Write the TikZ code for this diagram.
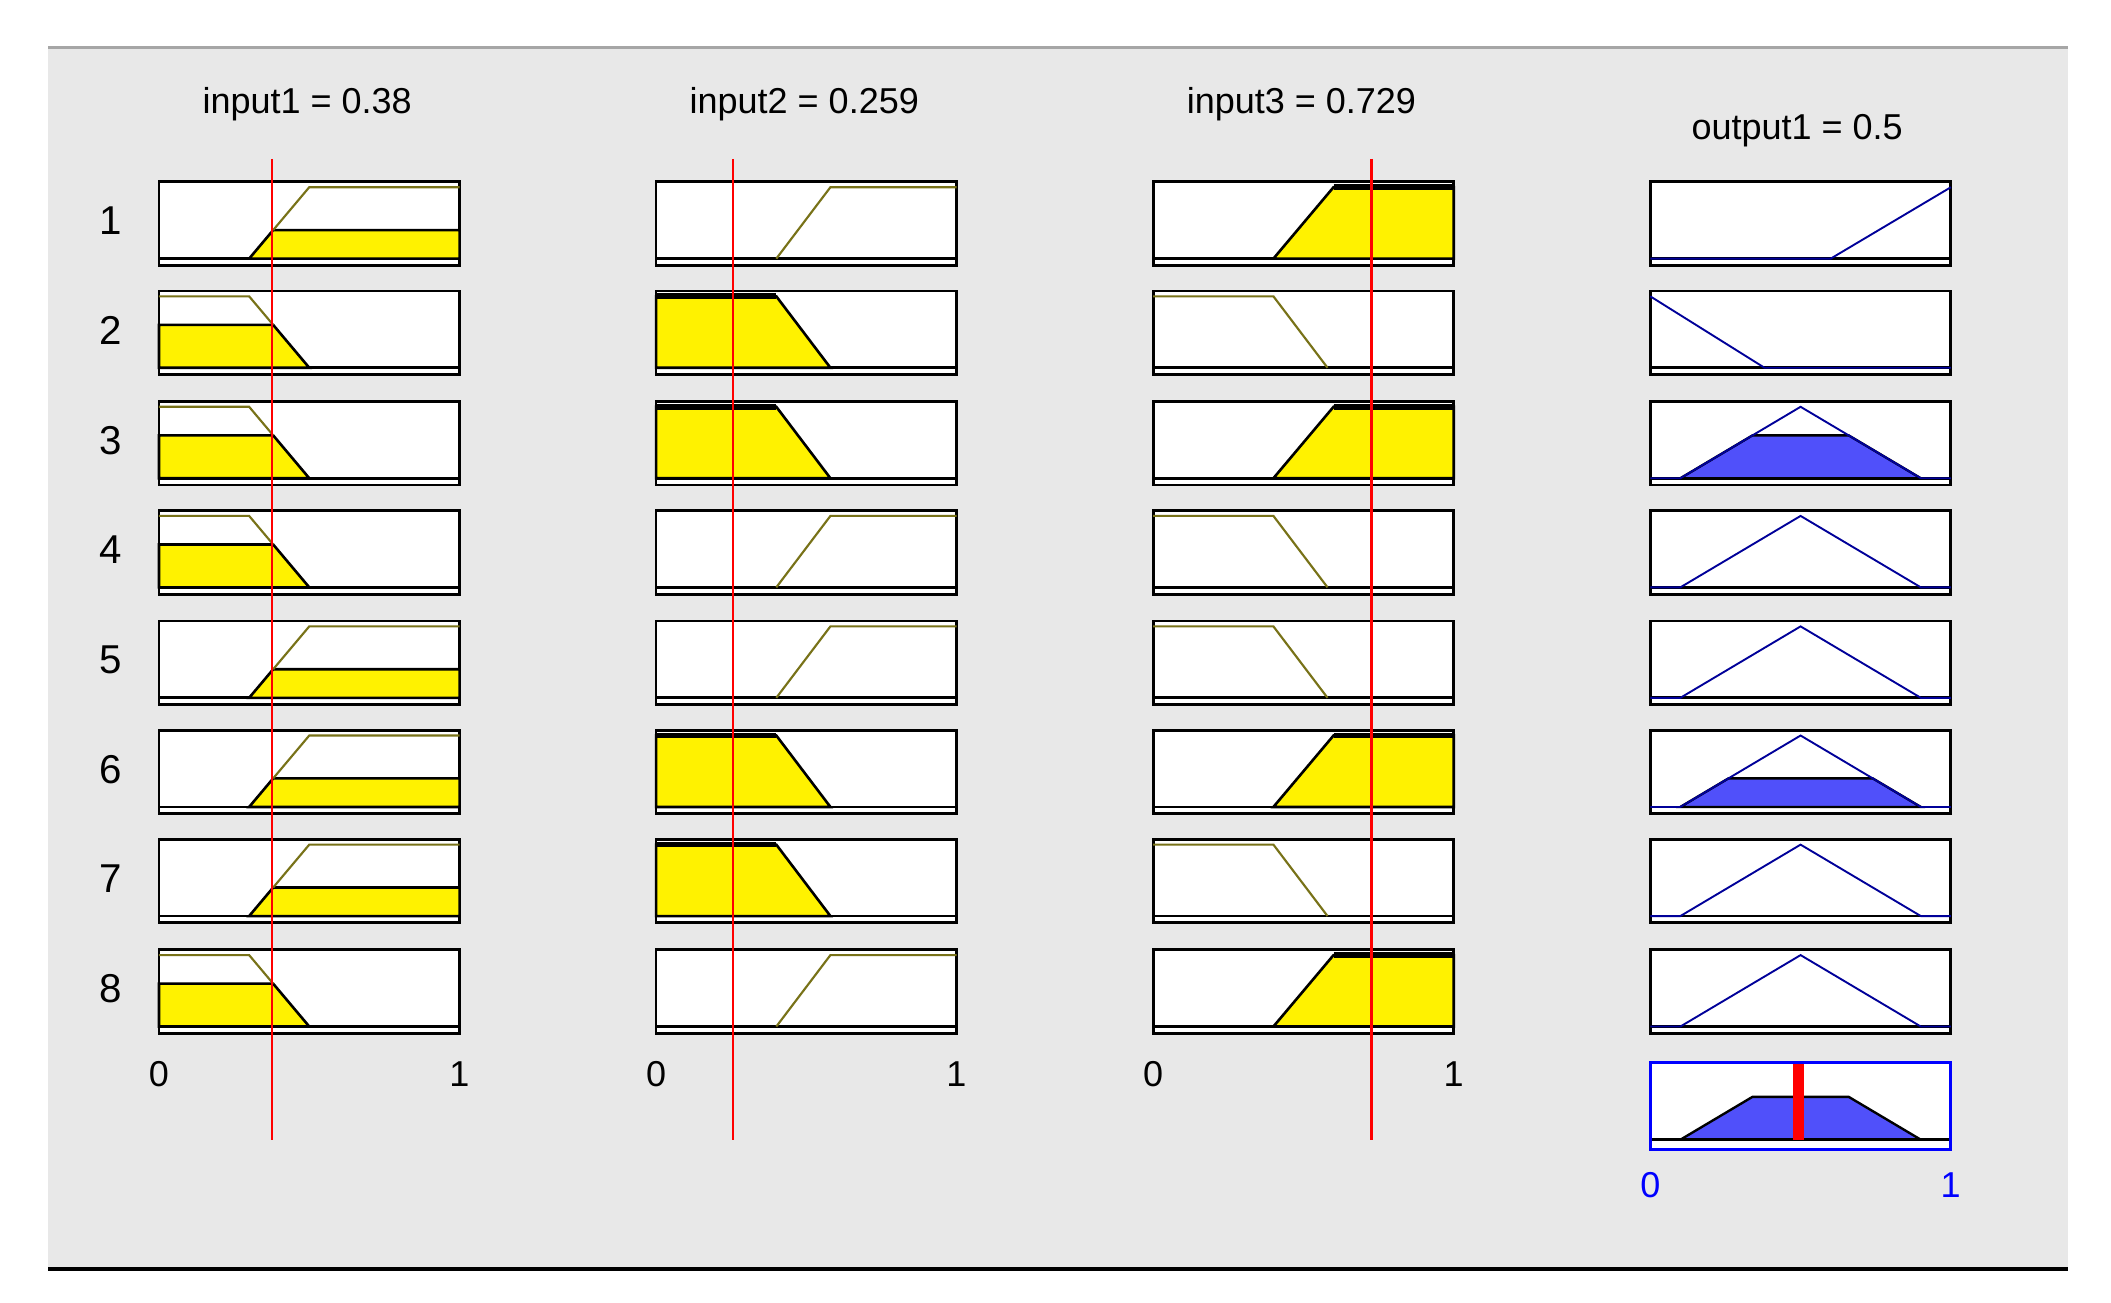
\documentclass[tikz,border=0pt]{standalone}
\usepackage{fontspec}
\setmainfont{Liberation Sans}
\begin{document}
\begin{tikzpicture}[x=0.01cm,y=-0.01cm,
  lab/.style={font=\fontsize{7.6}{9}\selectfont,inner sep=0pt},
  box/.style={draw=black,line width=0.6pt,fill=white},
  olive/.style={draw=olive!80!black,line width=0.45pt},
  clip1/.style={draw=black,line width=0.55pt,fill=yellow},
  navy/.style={draw=blue!60!black,line width=0.4pt},
  oclip/.style={draw=black,line width=0.5pt,fill={rgb,255:red,80;green,80;blue,250}},
  redl/.style={draw=red,line width=0.55pt}]
\useasboundingbox (0,0) rectangle (1567,967);
\fill[white] (0,0) rectangle (1567,967);
\fill[gray!18] (36,35) rectangle (1535,942);
\draw[gray!70,line width=0.6pt] (36,35) -- (1535,35);
\draw[black,line width=0.8pt] (36,942) -- (1535,942);
% titles
\node[lab] (t1) at (228,77) {input1 = 0.38};
\node[lab] (t2) at (597,77) {input2 = 0.259};
\node[lab] (t3) at (966,77) {input3 = 0.729};
\node[lab] (t4) at (1334,97) {output1 = 0.5};
% macros
\newcommand\boxat[2]{\draw[box] (#1,#2) rectangle ++(223,62);
  \draw[black,line width=0.6pt] (#1,#2+57) -- ++(223,0);}
\newcommand\plot[3]{\begin{scope}[shift={(#1,#2+57)},x=2.23cm,y=0.53cm] #3 \end{scope}}
\foreach \i/\T in {1/135,2/216,3/298,4/379,5/461,6/542,7/623,8/705}{
  \node[lab,font=\fontsize{8.5}{10}\selectfont] (r\i) at (82,\T+29) {\i};
  \foreach \L in {118,487,856,1225}{\boxat{\L}{\T}}
}
% input1
\foreach \T in {135,461,542,623}{\plot{118}{\T}{
  \draw[clip1] (0.3,0) -- (0.38,0.4) -- (1,0.4) -- (1,0) -- cycle;
  \draw[olive] (0.38,0.4) -- (0.5,1) -- (1,1);}}
\foreach \T in {216,298,379,705}{\plot{118}{\T}{
  \draw[clip1] (0,0) -- (0,0.6) -- (0.38,0.6) -- (0.5,0) -- cycle;
  \draw[olive] (0,1) -- (0.3,1) -- (0.38,0.6);}}
% input2
\foreach \T in {216,298,542,623}{\plot{487}{\T}{
  \draw[clip1] (0,0) -- (0,1) -- (0.4,1) -- (0.58,0) -- cycle;
  \draw[black,line width=1.2pt] (0,1) -- (0.4,1);}}
\foreach \T in {135,379,461,705}{\plot{487}{\T}{
  \draw[olive] (0.4,0) -- (0.58,1) -- (1,1);}}
% input3
\foreach \T in {135,298,542,705}{\plot{856}{\T}{
  \draw[clip1] (0.4,0) -- (0.6,1) -- (1,1) -- (1,0) -- cycle;
  \draw[black,line width=1.2pt] (0.6,1) -- (1,1);}}
\foreach \T in {216,379,461,623}{\plot{856}{\T}{
  \draw[olive] (0,1) -- (0.4,1) -- (0.58,0);}}
% output
\plot{1225}{135}{\draw[navy] (0,0) -- (0.6,0) -- (1,1);}
\plot{1225}{216}{\draw[navy] (0,1) -- (0.38,0) -- (1,0);}
\plot{1225}{298}{\draw[oclip] (0.1,0) -- (0.34,0.6) -- (0.66,0.6) -- (0.9,0) -- cycle;
  \draw[navy] (0,0) -- (0.1,0) -- (0.5,1) -- (0.9,0) -- (1,0);}
\plot{1225}{542}{\draw[oclip] (0.1,0) -- (0.26,0.4) -- (0.74,0.4) -- (0.9,0) -- cycle;
  \draw[navy] (0,0) -- (0.1,0) -- (0.5,1) -- (0.9,0) -- (1,0);}
\foreach \T in {379,461,623,705}{\plot{1225}{\T}{
  \draw[navy] (0,0) -- (0.1,0) -- (0.5,1) -- (0.9,0) -- (1,0);}}
% aggregate
\draw[white,fill=white] (1225,789) rectangle (1448,853);
\plot{1225}{789}{\draw[oclip] (0.1,0) -- (0.34,0.6) -- (0.66,0.6) -- (0.9,0) -- cycle;}
\draw[black,line width=0.6pt] (1225,846) -- (1448,846);
\draw[red,line width=2.4pt] (1335,790) -- (1335,846);
\draw[blue,line width=0.6pt] (1225,789) rectangle (1448,853);
% red lines
\draw[redl] (202,118) -- (202,846);
\draw[redl] (544,118) -- (544,846);
\draw[redl] (1018,118) -- (1018,846);
% axis labels
\node[lab] (a0) at (118,797) {0}; \node[lab] (a1) at (341,797) {1};
\node[lab] (b0) at (487,797) {0}; \node[lab] (b1) at (710,797) {1};
\node[lab] (c0) at (856,797) {0}; \node[lab] (c1) at (1079,797) {1};
\node[lab,text=blue] (d0) at (1225,880) {0}; \node[lab,text=blue] (d1) at (1448,880) {1};
\end{tikzpicture}
\end{document}
